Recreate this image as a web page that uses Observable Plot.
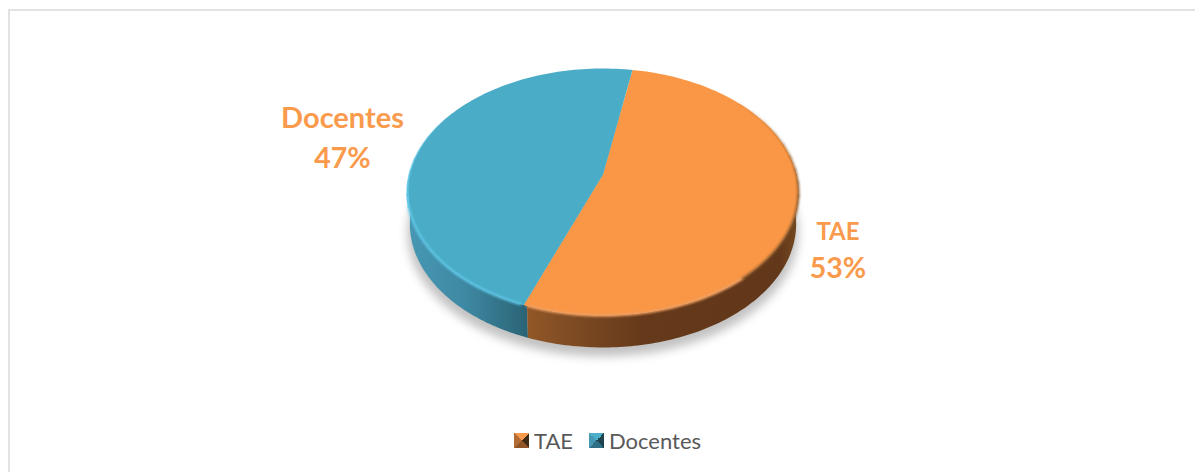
<!DOCTYPE html>
<html>
<head>
<meta charset="utf-8">
<script src="https://cdn.jsdelivr.net/npm/d3@7"></script>
<script src="https://cdn.jsdelivr.net/npm/@observablehq/plot@0.6"></script>
<style>
  html, body { margin: 0; padding: 0; background: #fff; overflow: hidden; }
  #page { position: relative; width: 1195px; height: 472px; font-family: Lato, sans-serif; }
  #page::before { content: ""; position: absolute; left: 8px; top: 9px; right: 0; bottom: 0;
    border-left: 2px solid #e2e2e2; border-top: 2px solid #e2e2e2; }
  #chart { position: absolute; left: 0; top: 0; }
  #chart svg { display: block; background: none; }
  #legend { position: absolute; left: 0; top: 420px; width: 1195px; height: 52px; color: #595959; font-size: 22px; }
  .entry { position: absolute; top: 7px; display: flex; align-items: center; height: 26px; }
  .swatch { width: 15px; height: 15px; margin-right: 5px; margin-top: 1px; }
</style>
</head>
<body>
<div id="page">
  <div id="chart"></div>
  <div id="legend"></div>
</div>
<script>
// Staff shares by category
const categories = ["TAE", "Docentes"];
const shares = [53, 47];
const topColors = ["#f99746", "#4aacc6"];
const labelColor = "#fa9a4c";

// Tilted disc: a circle in the plane seen under a slight perspective
const width = 1195, height = 420;
const centerX = 602.5, centerY = 174, radiusX = 193.5, radiusY = 121;
const tilt = 0.1417, depth = 32, firstSliceAngle = 10;

const project = (r, deg, drop = 0, shrink = 1) => {
  const a = deg * Math.PI / 180;
  const u = r * Math.sin(a), v = -r * Math.cos(a);
  const w = 1 - tilt * v;
  return {x: shrink * u / w, y: v / w + drop / radiusY};
};
const arc = (from, to, drop = 0, shrink = 1) =>
  d3.range(0, 121).map(i => project(1, from + (to - from) * i / 120, drop, shrink));

const total = d3.sum(shares);
const cuts = [firstSliceAngle, firstSliceAngle + 360 * shares[0] / total, firstSliceAngle + 360];
const slices = categories.map((name, i) => [project(0, 0), ...arc(cuts[i], cuts[i + 1])]);
const wall = (from, to) => [...arc(from, to), ...arc(to, from, depth, 0.988)];
const wallSplit = cuts[1] - 0.9;

const xDomain = [-centerX / radiusX, (width - centerX) / radiusX];
const yDomain = [-centerY / radiusY, (height - centerY) / radiusY];

const lineOf = (points, options) => Plot.line(points, {x: "x", y: "y", ...options});

// A rim that narrows and fades along its length, drawn as overlapping runs
const taperedRim = (from, to, color, startWidth, endWidth, blur) =>
  d3.range(0, 8).map(i => {
    const t = (i + 0.5) / 8;
    return lineOf(arc(from + (to - from) * i / 8, from + (to - from) * (i + 1) / 8), {
      stroke: color,
      strokeWidth: startWidth + (endWidth - startWidth) * t,
      strokeLinecap: "round",
      strokeOpacity: 1 - 0.75 * t,
      imageFilter: `blur(${blur}px)`
    });
  });

// Text anchors for the slice labels, in chart pixels
const toPoint = (px, py) => ({x: (px - centerX) / radiusX, y: (py - centerY) / radiusY});
const nameMarks = [
  {...toPoint(837.5, 232), text: categories[0], size: 24},
  {...toPoint(342, 118), text: categories[1], size: 29}
];
const valueMarks = [
  {...toPoint(837.5, 268), text: shares[0] + "%"},
  {...toPoint(342, 158), text: shares[1] + "%"}
];

const chart = Plot.plot({
  width, height,
  margin: 0,
  x: {domain: xDomain, range: [0, width], axis: null},
  y: {domain: yDomain, range: [0, height], axis: null},
  marks: [
    // soft ground shadow
    lineOf(arc(0, 360, depth + 9, 1.0), {fill: "#9a9a9a", fillOpacity: 0.6, stroke: "none", imageFilter: "blur(5px)"}),
    // side walls
    lineOf(wall(wallSplit, 272), {fill: "url(#wallBlue)", stroke: "none"}),
    lineOf(wall(88, wallSplit), {fill: "url(#wallOrange)", stroke: "none"}),
    // top faces
    lineOf(slices[0], {fill: topColors[0], stroke: "none"}),
    lineOf(slices[1], {fill: topColors[1], stroke: "none"}),
    // bevelled rims along the top edge
    lineOf(arc(cuts[1] + 1, 255), {stroke: "#5dc6e6", strokeWidth: 2.6, imageFilter: "blur(0.8px)"}),
    taperedRim(255, 300, "#5dc6e6", 2.6, 1, 0.7),
    lineOf(arc(140, cuts[1] - 1), {stroke: "#ef9f62", strokeWidth: 2.6, imageFilter: "blur(0.9px)"}),
    lineOf(arc(100, 140), {stroke: "#8f5d2e", strokeWidth: 2.2, imageFilter: "blur(1.1px)"}),
    taperedRim(100, 50, "#8f5d2e", 2.2, 0.8, 0.9),
    // slice labels
    Plot.text(nameMarks, {x: "x", y: "y", text: "text", fontSize: "size", fontWeight: 700, fontFamily: "Lato", fill: labelColor}),
    Plot.text(valueMarks, {x: "x", y: "y", text: "text", fontSize: 28.5, fontWeight: 700, fontFamily: "Lato", fill: labelColor})
  ]
});

// Horizontal shading for the walls, spanning the disc from left to right
const defs = d3.create("svg:defs");
const shade = (id, stops) => {
  const g = defs.append("linearGradient").attr("id", id)
    .attr("gradientUnits", "userSpaceOnUse")
    .attr("x1", 407).attr("x2", 798).attr("y1", 0).attr("y2", 0);
  stops.forEach(([at, color]) => g.append("stop").attr("offset", at).attr("stop-color", color));
};
shade("wallBlue", [[0, "#4798b4"], [0.15, "#3e88a2"], [0.307, "#2a6375"]]);
shade("wallOrange", [[0.307, "#915727"], [0.45, "#7a4822"], [0.6, "#65391a"], [0.95, "#62381a"], [1, "#74481f"]]);
chart.insertBefore(defs.node(), chart.firstChild);
document.getElementById("chart").append(chart);

// Legend below the plot, with bevelled square swatches
const swatchShades = [
  ["#fa9a4c", "#3f2a14", "#8f5526", "#b36c33"],
  ["#4cb0cb", "#1f4450", "#2f6f85", "#4498b3"]
];
const swatchBackground = ([top, right, bottom, left]) =>
  `conic-gradient(from -45deg, ${top} 0 25%, ${right} 0 50%, ${bottom} 0 75%, ${left} 0 100%)`;
const legend = d3.select("#legend");
const entryLeft = [514, 589];
categories.forEach((name, i) => {
  const entry = legend.append("div").attr("class", "entry").style("left", entryLeft[i] + "px");
  entry.append("span").attr("class", "swatch").style("background", swatchBackground(swatchShades[i]));
  entry.append("span").text(name);
});
</script>
</body>
</html>
